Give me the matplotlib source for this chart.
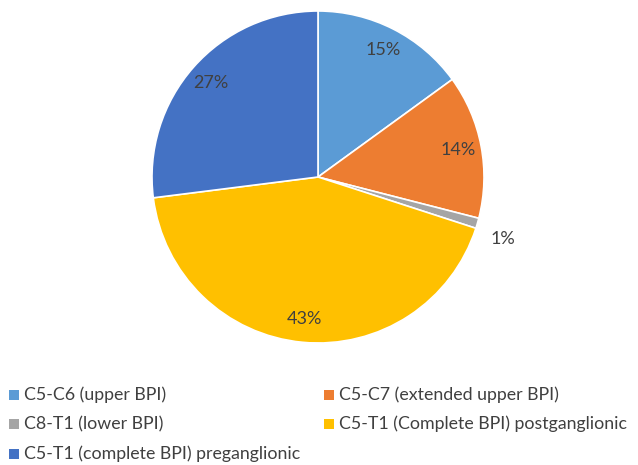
import matplotlib
matplotlib.use("Agg")
import matplotlib.pyplot as plt
from matplotlib.patches import Rectangle
import numpy as np

categories = ["C5-C6 (upper BPI)", "C5-C7 (extended upper BPI)", "C8-T1 (lower BPI)",
              "C5-T1 (Complete BPI) postganglionic", "C5-T1 (complete BPI) preganglionic"]
values = [15, 14, 1, 43, 27]
colors = ["#5B9BD5", "#ED7D31", "#A5A5A5", "#FFC000", "#4472C4"]

plt.rcParams['font.family'] = ['Lato', 'DejaVu Sans']

W, H = 638, 465
fig = plt.figure(figsize=(W/100, H/100), dpi=100)
cx, cy, r = 318, 177, 166
ax = fig.add_axes([(cx - r)/W, (H - cy - r)/H, 2*r/W, 2*r/H])
wedges, texts = ax.pie(values, colors=colors, startangle=90, counterclock=False,
                       wedgeprops=dict(edgecolor="white", linewidth=1.2))
ax.set_xlim(-1, 1); ax.set_ylim(-1, 1); ax.set_aspect('equal'); ax.axis('off')

for w, v in zip(wedges, values):
    mid = np.deg2rad((w.theta1 + w.theta2) / 2)
    d = 1.16 if v < 3 else 0.86
    ax.text(d*np.cos(mid), d*np.sin(mid) - (0.05 if v < 3 else 0), f"{v}%",
            ha='center', va='center', fontsize=13, color="#404040")

# legend laid out row by row (two columns)
col_x = [9, 324]
row_y = [395, 424, 454]
sq = 10
for i, (lab, col) in enumerate(zip(categories, colors)):
    rr, cc = divmod(i, 2)
    x0, y0 = col_x[cc], row_y[rr]
    fig.patches.append(Rectangle((x0/W, (H - y0 - sq/2)/H), sq/W, sq/H,
                                 transform=fig.transFigure, facecolor=col, edgecolor='none'))
    fig.text((x0 + sq + 5)/W, (H - y0)/H, lab, ha='left', va='center',
             fontsize=12.8, color="#404040")

fig.savefig("out.png", dpi=100)
